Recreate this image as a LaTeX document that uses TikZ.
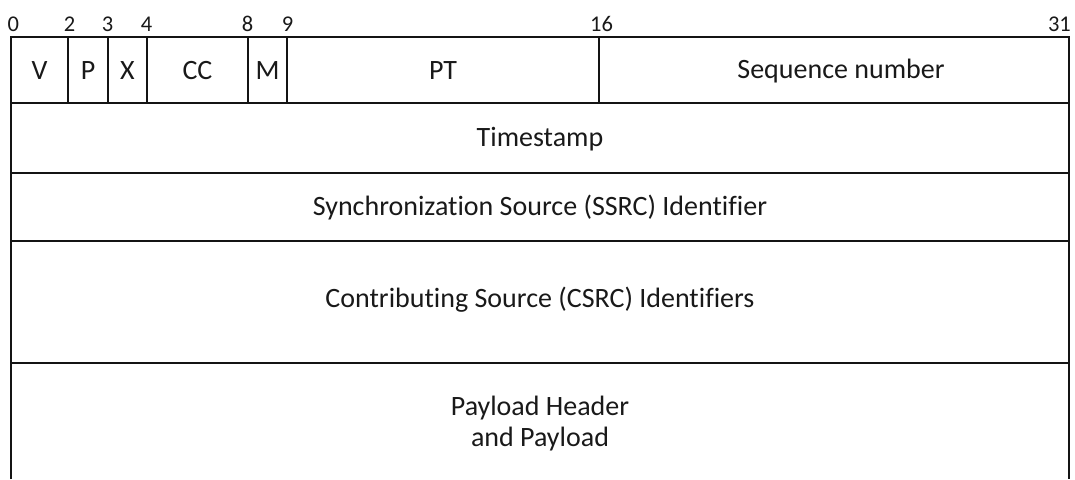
\documentclass[tikz,border=0pt]{standalone}
\usepackage{fontspec}
\setmainfont[Ligatures=NoCommon]{Carlito}
\begin{document}
\begin{tikzpicture}[x=1pt,y=-1pt,
  rule/.style={line width=2.6pt,draw=black!92},
  field/.style={font=\fontsize{28}{32}\selectfont,text=black!90,inner sep=0pt,anchor=center},
  bitno/.style={font=\fontsize{22.5}{26}\selectfont,text=black!90,inner sep=0pt,anchor=base}]
\useasboundingbox (0,0) rectangle (1075,479);
% outer frame, open at the bottom
\draw[rule] (11,479) -- (11,37) -- (1069,37) -- (1069,479);
% row separators
\foreach \y in {103,173,241,363} \draw[rule] (11,\y) -- (1069,\y);
% field boundaries of the first word
\foreach \x in {68,108,147,248,287,599} \draw[rule] (\x,37) -- (\x,103);
% bit positions
\node[bitno,anchor=base west] (b0) at (7.5,31.5) {0};
\node[bitno] (b2) at (69.5,31.5) {2};
\node[bitno] (b3) at (107.5,31.5) {3};
\node[bitno] (b4) at (146.5,31.5) {4};
\node[bitno] (b8) at (247.5,31.5) {8};
\node[bitno] (b9) at (287.5,31.5) {9};
\node[bitno] (b16) at (601.5,31.5) {16};
\node[bitno,anchor=base east] (b31) at (1071,31.5) {31};
% field names
\node[field] (v) at (39.5,71) {V};
\node[field] (p) at (88,71) {P};
\node[field] (x) at (127.5,71) {X};
\node[field] (cc) at (197.5,71) {CC};
\node[field] (m) at (267.5,71) {M};
\node[field] (pt) at (443,71) {PT};
\node[field] (seq) at (841,71) {Sequence number};
\node[field] (ts) at (540,139) {Timestamp};
\node[field] (ssrc) at (540,208) {Synchronization Source (SSRC) Identifier};
\node[field] (csrc) at (540,300) {Contributing Source (CSRC) Identifiers};
\node[field,align=center,font=\fontsize{28}{31}\selectfont] (pl) at (540,424) {Payload Header\\and Payload};
\end{tikzpicture}
\end{document}
